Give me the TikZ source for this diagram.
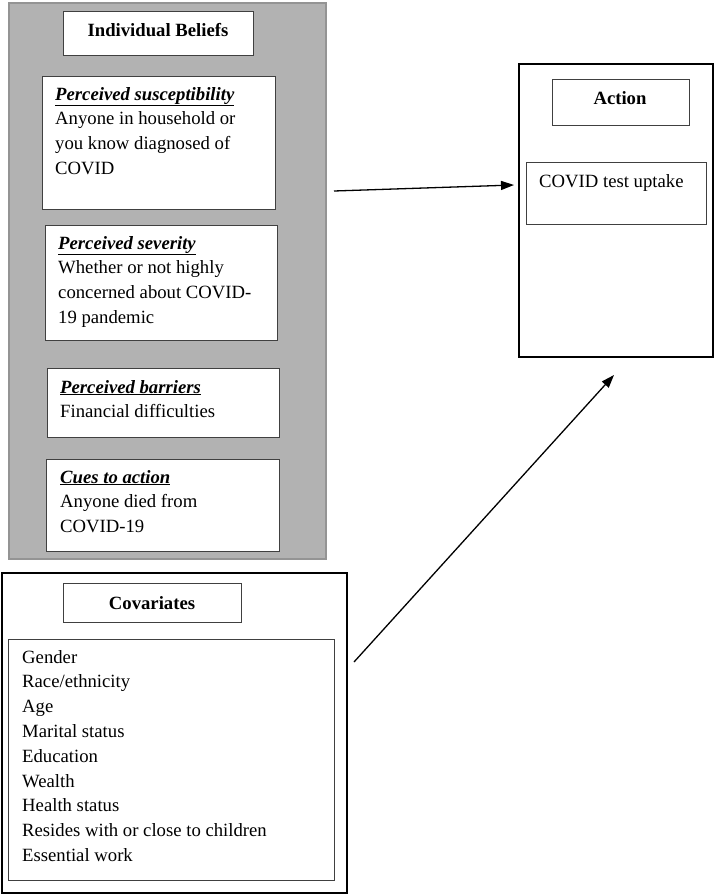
\documentclass[tikz,border=0pt]{standalone}
\usepackage{fontspec}
\setmainfont{Liberation Serif}
\usetikzlibrary{arrows.meta}
\tikzset{
  outerbox/.style={draw=black, line width=1.6pt, fill=white, inner sep=0pt},
  innerbox/.style={draw=black!75, line width=1pt, fill=white, inner sep=0pt},
  graybox/.style={draw=black!42, line width=1.6pt, fill=black!30, inner sep=0pt},
  txt/.style={inner sep=0pt, anchor=base west, font=\fontsize{18.7}{24.8}\selectfont},
  ttl/.style={inner sep=0pt, anchor=base, font=\fontsize{18.7}{24.8}\selectfont\bfseries},
  conn/.style={line width=1.3pt, -{Triangle[length=13pt,width=9pt]}}
}
\newcommand{\hd}[1]{\underline{\textbf{\textit{#1}}}}
\begin{document}
\begin{tikzpicture}[x=1pt,y=-1pt]
\useasboundingbox (0,0) rectangle (714,894);
% Individual beliefs panel
\node[graybox, minimum width=317pt, minimum height=556pt, anchor=north west] (ib) at (8,2) {};
\node[innerbox, minimum width=190pt, minimum height=44pt, anchor=north west] (ibt) at (63,11) {};
\node[ttl] (ibtt) at (158,36) {Individual Beliefs};
\node[innerbox, minimum width=233pt, minimum height=133pt, anchor=north west] (sus) at (42,76) {};
\node[txt] (sust) at (55,100) {\vtop{\hbox{\hd{Perceived susceptibility}}\hbox{Anyone in household or}\hbox{you know diagnosed of}\hbox{COVID}}};
\node[innerbox, minimum width=232pt, minimum height=115pt, anchor=north west] (sev) at (45,225) {};
\node[txt] (sevt) at (58,249) {\vtop{\hbox{\hd{Perceived severity}}\hbox{Whether or not highly}\hbox{concerned about COVID-}\hbox{19 pandemic}}};
\node[innerbox, minimum width=232pt, minimum height=69pt, anchor=north west] (bar) at (47,368) {};
\node[txt] (bart) at (60,393) {\vtop{\hbox{\hd{Perceived barriers}}\hbox{Financial difficulties}}};
\node[innerbox, minimum width=233pt, minimum height=92pt, anchor=north west] (cue) at (46,459) {};
\node[txt] (cuet) at (60,483) {\vtop{\hbox{\hd{Cues to action}}\hbox{Anyone died from}\hbox{COVID-19}}};
% Covariates panel
\node[outerbox, minimum width=345pt, minimum height=320pt, anchor=north west] (cov) at (1,572) {};
\node[innerbox, minimum width=178pt, minimum height=39pt, anchor=north west] (covt) at (63,583) {};
\node[ttl] (covtt) at (152,609) {Covariates};
\node[innerbox, minimum width=326pt, minimum height=241pt, anchor=north west] (covl) at (8,639) {};
\node[txt] (covlt) at (22,663) {\vtop{\hbox{Gender}\hbox{Race/ethnicity}\hbox{Age}\hbox{Marital status}\hbox{Education}\hbox{Wealth}\hbox{Health status}\hbox{Resides with or close to children}\hbox{Essential work}}};
% Action panel
\node[outerbox, minimum width=194pt, minimum height=293pt, anchor=north west] (act) at (518,63) {};
\node[innerbox, minimum width=137pt, minimum height=46pt, anchor=north west] (actt) at (552,79) {};
\node[ttl] (acttt) at (620,104) {Action};
\node[innerbox, minimum width=180pt, minimum height=62pt, anchor=north west] (up) at (526,162) {};
\node[txt] (upt) at (539,187) {COVID test uptake};
% Connectors
\coordinate (a1s) at (334,191);
\coordinate (a1e) at (514,185);
\coordinate (a2s) at (354,662);
\coordinate (a2e) at (614,375);
\draw[conn] (a1s) -- (a1e);
\draw[conn] (a2s) -- (a2e);
\end{tikzpicture}
\end{document}
